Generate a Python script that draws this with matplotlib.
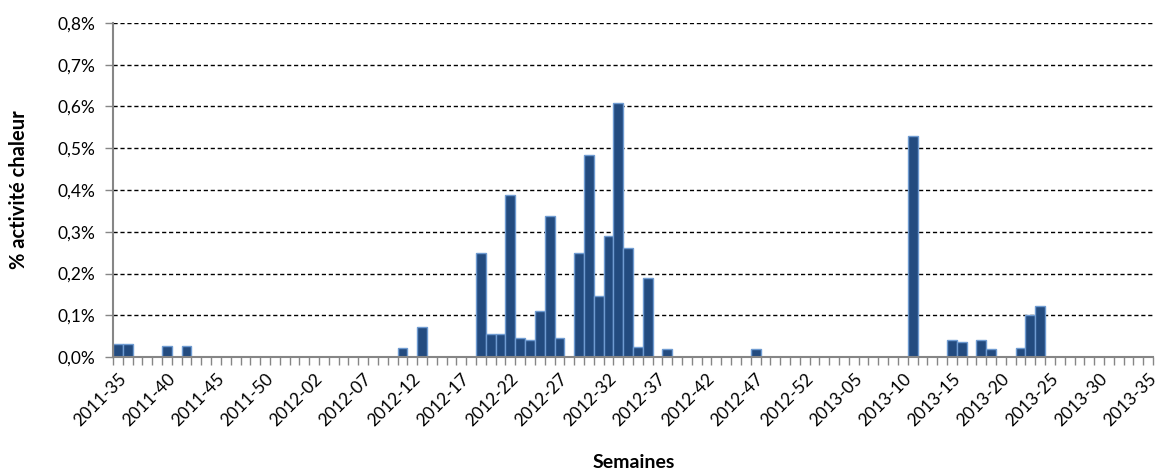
import numpy as np
import matplotlib.pyplot as plt
from matplotlib.ticker import FuncFormatter

plt.rcParams['font.family'] = ['Lato', 'DejaVu Sans']

# week labels (one per bar)
weeks = ([f"2011-{w:02d}" for w in range(35, 54)]
         + [f"2012-{w:02d}" for w in range(1, 53)]
         + [f"2013-{w:02d}" for w in range(1, 36)])

# % activité chaleur per week
values = [
    0.031, 0.031, 0, 0, 0, 0.027, 0, 0.027, 0, 0,
    0, 0, 0, 0, 0, 0, 0, 0, 0, 0,
    0, 0, 0, 0, 0, 0, 0, 0, 0, 0.022,
    0, 0.072, 0, 0, 0, 0, 0, 0.25, 0.054, 0.054,
    0.387, 0.046, 0.041, 0.109, 0.338, 0.046, 0, 0.249, 0.483, 0.145,
    0.289, 0.608, 0.261, 0.024, 0.19, 0, 0.02, 0, 0, 0,
    0, 0, 0, 0, 0, 0.018, 0, 0, 0, 0,
    0, 0, 0, 0, 0, 0, 0, 0, 0, 0,
    0, 0.53, 0, 0, 0, 0.04, 0.035, 0, 0.04, 0.018,
    0, 0, 0.022, 0.1, 0.122, 0, 0, 0, 0, 0,
    0, 0, 0, 0, 0, 0,
]

fig = plt.figure(figsize=(11.61, 4.75), dpi=100)
ax = fig.add_axes([113/1161, 118/475, 1040/1161, 334/475])

x = np.arange(len(weeks))
ax.bar(x, values, width=1.0, color="#234b7f", edgecolor="#6f9bd1", linewidth=1.0, zorder=3)

ax.set_xlim(-0.5, len(weeks) - 0.5)
ax.set_ylim(0, 0.8)
ax.set_yticks(np.arange(0, 0.81, 0.1))
ax.yaxis.set_major_formatter(FuncFormatter(lambda v, p: f"{v:.1f}%".replace(".", ",")))
ax.grid(axis="y", color="black", linestyle=(0, (3, 2)), linewidth=1.0, zorder=1)

# category boundary ticks + labels every 5 weeks
ax.set_xticks(np.arange(-0.5, len(weeks), 1.0), minor=True)
ax.set_xticks(x[::5])
ax.set_xticklabels(weeks[::5], rotation=45, ha="right", rotation_mode="anchor")
ax.tick_params(axis="x", which="major", length=0, pad=10, labelsize=12.5)
ax.tick_params(axis="x", which="minor", length=6, color="#868686", width=1)
ax.tick_params(axis="y", length=6, color="#868686", width=1, labelsize=12.5, pad=7)

for s in ["top", "right"]:
    ax.spines[s].set_visible(False)
for s in ["left", "bottom"]:
    ax.spines[s].set_color("#868686")
    ax.spines[s].set_linewidth(1.5)
    ax.spines[s].set_zorder(4)

ax.set_ylabel("% activité chaleur", fontsize=14.5, fontweight="bold")
ax.yaxis.set_label_coords(-0.081, 0.5)
fig.text(634/1161, 1 - 462/475, "Semaines", fontsize=14, fontweight="bold", ha="center", va="center")

plt.savefig("out.png", dpi=100)
